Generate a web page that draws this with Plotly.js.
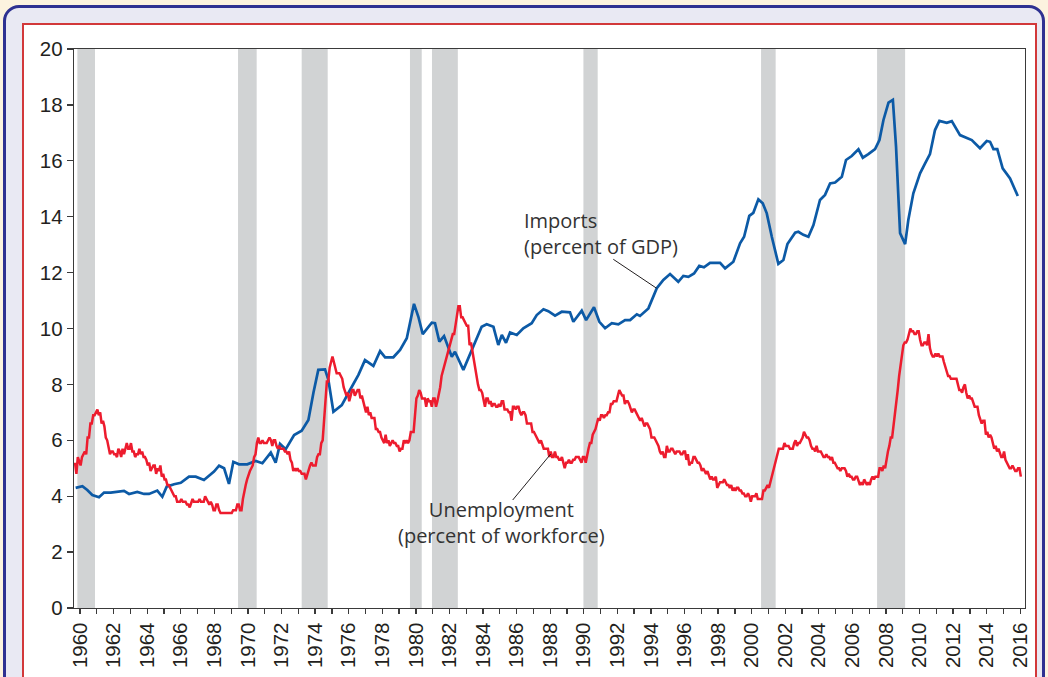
<!DOCTYPE html>
<html>
<head>
<meta charset="utf-8">
<script src="https://cdn.plot.ly/plotly-3.0.1.min.js"></script>
<style>
  html, body { margin:0; padding:0; background:#fcf3df; width:1048px; height:677px; overflow:hidden; }
  #outer { position:absolute; left:3px; top:5px; width:1036px; height:700px; border:3px solid #2e3191; border-radius:16px; background:#e9e9f3; }
  #inner { position:absolute; left:22px; top:23px; width:1011px; height:700px; border:2px solid #d2383a; background:#ffffff; }
  #chart { position:absolute; left:0; top:0; width:1048px; height:677px; }
</style>
</head>
<body>
<div id="outer"></div>
<div id="inner"></div>
<div id="chart"></div>
<script>
// ---------- DATA ----------
// Recession periods (shaded bars), decimal years
const recessionStart = [1960.14, 1969.71, 1973.50, 1979.95, 1981.26, 1990.28, 2000.86, 2007.77];
const recessionEnd   = [1961.19, 1970.82, 1975.05, 1980.65, 1982.80, 1991.13, 2001.73, 2009.44];

// Imports (percent of GDP)
const importsDate = [1960.04,1960.44,1960.73,1961.03,1961.43,1961.73,1962.13,1962.52,1962.92,1963.22,1963.71,1964.11,1964.41,1964.90,1965.20,1965.46,1965.90,1966.30,1966.79,1967.19,1967.68,1968.28,1968.58,1968.88,1969.17,1969.43,1969.77,1970.26,1970.76,1971.16,1971.66,1971.95,1972.21,1972.55,1973.05,1973.50,1973.90,1974.20,1974.49,1974.89,1975.09,1975.39,1975.89,1976.38,1976.88,1977.27,1977.77,1978.17,1978.47,1978.96,1979.36,1979.76,1979.96,1980.19,1980.45,1980.71,1981.25,1981.44,1981.70,1981.98,1982.44,1982.63,1983.13,1983.72,1984.22,1984.52,1984.92,1985.21,1985.42,1985.67,1985.91,1986.31,1986.70,1987.20,1987.50,1987.90,1988.19,1988.59,1988.99,1989.48,1989.68,1990.18,1990.44,1990.91,1991.23,1991.57,1991.97,1992.36,1992.76,1993.06,1993.46,1993.65,1994.15,1994.65,1995.04,1995.44,1995.93,1996.23,1996.53,1996.87,1997.18,1997.46,1997.82,1998.42,1998.72,1999.21,1999.61,1999.85,2000.16,2000.40,2000.70,2000.96,2001.20,2001.50,2001.89,2002.19,2002.43,2002.89,2003.08,2003.38,2003.68,2003.98,2004.37,2004.67,2004.97,2005.27,2005.67,2005.92,2006.26,2006.66,2006.92,2007.25,2007.65,2007.91,2008.15,2008.45,2008.71,2008.90,2009.14,2009.44,2009.63,2009.93,2010.33,2010.63,2010.92,2011.22,2011.48,2011.92,2012.22,2012.71,2013.41,2013.90,2014.30,2014.50,2014.70,2014.93,2015.25,2015.69,2016.15];
const importsPct = [4.30,4.36,4.22,4.04,3.96,4.13,4.13,4.15,4.19,4.08,4.15,4.08,4.08,4.20,3.98,4.34,4.43,4.48,4.70,4.70,4.58,4.88,5.09,5.00,4.44,5.23,5.14,5.14,5.26,5.18,5.56,5.20,5.87,5.68,6.19,6.34,6.73,7.70,8.52,8.54,8.16,7.02,7.26,7.80,8.34,8.87,8.66,9.19,8.97,8.97,9.23,9.65,10.19,10.88,10.42,9.80,10.21,10.19,9.53,9.73,8.99,9.17,8.52,9.35,10.06,10.15,10.06,9.41,9.77,9.49,9.86,9.77,10.01,10.19,10.48,10.69,10.62,10.46,10.60,10.58,10.24,10.64,10.30,10.76,10.24,10.01,10.19,10.15,10.30,10.30,10.51,10.45,10.72,11.44,11.74,11.95,11.67,11.88,11.85,11.97,12.24,12.19,12.35,12.35,12.15,12.39,13.05,13.28,14.03,14.14,14.62,14.48,14.12,13.28,12.31,12.45,13.02,13.43,13.46,13.35,13.28,13.70,14.60,14.78,15.19,15.22,15.43,16.03,16.17,16.41,16.11,16.24,16.42,16.74,17.46,18.08,18.18,16.50,13.41,13.02,13.88,14.84,15.55,15.91,16.24,17.10,17.43,17.36,17.42,16.92,16.74,16.45,16.71,16.68,16.42,16.42,15.73,15.37,14.74];

// Unemployment (percent of workforce), monthly from January 1960
const unempStartYear = 1960;
const unempMonthly = [
5.2,4.8,5.4,5.2,5.1,5.4,5.5,5.6,5.5,6.1,6.1,6.6,
6.6,6.9,6.9,7.0,7.1,6.9,7.0,6.6,6.7,6.5,6.1,6.0,
5.8,5.5,5.6,5.6,5.5,5.5,5.4,5.7,5.6,5.4,5.7,5.5,
5.7,5.9,5.7,5.7,5.9,5.6,5.6,5.4,5.5,5.5,5.7,5.5,
5.6,5.4,5.4,5.3,5.1,5.2,4.9,5.0,5.1,5.1,4.8,5.0,
4.9,5.1,4.7,4.8,4.6,4.6,4.4,4.4,4.3,4.2,4.1,4.0,
4.0,3.8,3.8,3.8,3.9,3.8,3.8,3.8,3.7,3.7,3.6,3.8,
3.9,3.8,3.8,3.8,3.8,3.9,3.8,3.8,3.8,4.0,3.9,3.8,
3.7,3.8,3.7,3.5,3.5,3.7,3.7,3.5,3.4,3.4,3.4,3.4,
3.4,3.4,3.4,3.4,3.4,3.5,3.5,3.5,3.7,3.7,3.5,3.5,
3.9,4.2,4.4,4.6,4.8,4.9,5.0,5.1,5.4,5.5,5.9,6.1,
5.9,5.9,6.0,5.9,5.9,5.9,6.0,6.1,6.0,5.8,6.0,6.0,
5.8,5.7,5.8,5.7,5.7,5.7,5.6,5.6,5.5,5.6,5.3,5.2,
4.9,5.0,4.9,5.0,4.9,4.9,4.8,4.8,4.8,4.6,4.8,4.9,
5.1,5.2,5.1,5.1,5.1,5.4,5.5,5.5,5.9,6.0,6.6,7.2,
8.1,8.1,8.6,8.8,9.0,8.8,8.6,8.4,8.4,8.4,8.3,8.2,
7.9,7.7,7.6,7.7,7.4,7.6,7.8,7.8,7.6,7.7,7.8,7.8,
7.5,7.6,7.4,7.2,7.0,7.2,6.9,7.0,6.8,6.8,6.8,6.4,
6.4,6.3,6.3,6.1,6.0,5.9,6.2,5.9,6.0,5.8,5.9,6.0,
5.9,5.9,5.8,5.8,5.6,5.7,5.7,6.0,5.9,6.0,5.9,6.0,
6.3,6.3,6.3,6.9,7.5,7.6,7.8,7.7,7.5,7.5,7.5,7.2,
7.5,7.4,7.4,7.2,7.5,7.5,7.2,7.4,7.6,7.9,8.3,8.5,
8.6,8.9,9.0,9.3,9.4,9.6,9.8,9.8,10.1,10.4,10.8,10.8,
10.4,10.4,10.3,10.2,10.1,10.1,9.4,9.5,9.2,8.8,8.5,8.3,
8.0,7.8,7.8,7.7,7.4,7.2,7.5,7.5,7.3,7.4,7.2,7.3,
7.3,7.2,7.2,7.3,7.2,7.4,7.4,7.1,7.1,7.1,7.0,7.0,
6.7,7.2,7.2,7.1,7.2,7.2,7.0,6.9,7.0,7.0,6.9,6.6,
6.6,6.6,6.6,6.3,6.3,6.2,6.1,6.0,5.9,6.0,5.8,5.7,
5.7,5.7,5.7,5.4,5.6,5.4,5.4,5.6,5.4,5.4,5.3,5.3,
5.4,5.2,5.0,5.2,5.2,5.3,5.2,5.2,5.3,5.3,5.4,5.4,
5.4,5.3,5.2,5.4,5.4,5.2,5.5,5.7,5.9,5.9,6.2,6.3,
6.4,6.6,6.8,6.7,6.9,6.9,6.8,6.9,6.9,7.0,7.0,7.3,
7.3,7.4,7.4,7.4,7.6,7.8,7.7,7.6,7.6,7.3,7.4,7.4,
7.3,7.1,7.0,7.1,7.1,7.0,6.9,6.8,6.7,6.8,6.6,6.5,
6.6,6.6,6.5,6.4,6.1,6.1,6.1,6.0,5.9,5.8,5.6,5.5,
5.6,5.4,5.4,5.8,5.6,5.6,5.7,5.7,5.6,5.5,5.6,5.6,
5.6,5.5,5.5,5.6,5.6,5.3,5.5,5.1,5.2,5.2,5.4,5.4,
5.3,5.2,5.2,5.1,4.9,5.0,4.9,4.8,4.9,4.7,4.6,4.7,
4.6,4.6,4.7,4.3,4.4,4.5,4.5,4.5,4.6,4.5,4.4,4.4,
4.3,4.4,4.2,4.3,4.2,4.3,4.3,4.2,4.2,4.1,4.1,4.0,
4.0,4.1,4.0,3.8,4.0,4.0,4.0,4.1,3.9,3.9,3.9,3.9,
4.2,4.2,4.3,4.4,4.3,4.5,4.6,4.9,5.0,5.3,5.5,5.7,
5.7,5.7,5.7,5.9,5.8,5.8,5.8,5.7,5.7,5.7,5.9,6.0,
5.8,5.9,5.9,6.0,6.1,6.3,6.2,6.1,6.1,6.0,5.8,5.7,
5.7,5.6,5.8,5.6,5.6,5.6,5.5,5.4,5.4,5.5,5.4,5.4,
5.3,5.4,5.2,5.2,5.1,5.0,5.0,4.9,5.0,5.0,5.0,4.9,
4.7,4.8,4.7,4.7,4.6,4.6,4.7,4.7,4.5,4.4,4.5,4.4,
4.6,4.5,4.4,4.5,4.4,4.6,4.7,4.6,4.7,4.7,4.7,5.0,
5.0,4.9,5.1,5.0,5.4,5.6,5.8,6.1,6.1,6.5,6.8,7.3,
7.8,8.3,8.7,9.0,9.4,9.5,9.5,9.6,9.8,10.0,9.9,9.9,
9.8,9.8,9.9,9.9,9.6,9.4,9.4,9.5,9.5,9.4,9.8,9.3,
9.1,9.0,9.0,9.1,9.0,9.1,9.0,9.0,9.0,8.8,8.6,8.5,
8.3,8.3,8.2,8.2,8.2,8.2,8.2,8.0,7.8,7.8,7.7,7.9,
8.0,7.7,7.5,7.6,7.5,7.5,7.3,7.2,7.2,7.2,6.9,6.7,
6.6,6.7,6.7,6.2,6.3,6.1,6.2,6.1,5.9,5.7,5.8,5.6,
5.7,5.5,5.4,5.4,5.6,5.3,5.2,5.1,5.0,5.0,5.1,5.0,
4.9,4.9,5.0,5.0,4.7
];

// Axis ticks
const tickYears = [];
for (let y = 1960; y <= 2016; y++) tickYears.push(y);
const yTicks = [0,2,4,6,8,10,12,14,16,18,20];

// Labels
const importsLabel = "Imports<br>(percent of GDP)";
const unempLabel = "Unemployment<br>(percent of workforce)";

// ---------- CHART ----------
const unempDate = unempMonthly.map((_, i) => unempStartYear + i / 12);
const tickOffset = 0.3;

const shapes = recessionStart.map((s, i) => ({
  type: 'rect', xref: 'x', yref: 'paper', x0: s, x1: recessionEnd[i], y0: 0, y1: 1,
  fillcolor: '#d1d3d4', line: {width: 0}, layer: 'below'
}));
shapes.push({type:'line', xref:'paper', yref:'paper', x0:0.5671, y0:0.6238, x1:0.6127, y1:0.5719, line:{color:'#231f20', width:1}});
shapes.push({type:'line', xref:'paper', yref:'paper', x0:0.4613, y0:0.1932, x1:0.5013, y1:0.2755, line:{color:'#231f20', width:1}});

const traces = [
  {x: importsDate, y: importsPct, type:'scatter', mode:'lines', line:{color:'#0c5aa6', width:2.7}, hoverinfo:'skip'},
  {x: unempDate, y: unempMonthly, type:'scatter', mode:'lines', line:{color:'#ed1c2e', width:2.5}, hoverinfo:'skip'}
];

const axisFont = {family:'"Liberation Sans", Arial, sans-serif', size:20.5, color:'#231f20'};

const layout = {
  width:1048, height:677,
  margin:{l:74, r:23, t:49, b:69, pad:0},
  paper_bgcolor:'rgba(0,0,0,0)', plot_bgcolor:'#ffffff',
  showlegend:false,
  xaxis:{
    range:[1959.94, 2016.58], showgrid:false, zeroline:false,
    tickmode:'array', tickvals: tickYears.map(y => y + tickOffset),
    ticktext: tickYears.map(y => (y % 2 === 0 ? String(y) : '')),
    tickangle:-90, ticks:'outside', ticklen:5, tickwidth:1.3, tickcolor:'#3a3a3a',
    showline:true, mirror:true, linecolor:'#3a3a3a', linewidth:1.3,
    tickfont: axisFont
  },
  yaxis:{
    range:[0,20], showgrid:false, zeroline:false,
    tickmode:'array', tickvals:yTicks, ticktext:yTicks.map(String),
    ticks:'outside', ticklen:6, tickwidth:1.3, tickcolor:'#3a3a3a',
    showline:true, mirror:true, linecolor:'#3a3a3a', linewidth:1.3,
    tickfont: axisFont
  },
  shapes: shapes,
  annotations:[
    {xref:'paper', yref:'paper', x:0.4711, y:0.6708, text:importsLabel, showarrow:false,
     xanchor:'left', yanchor:'middle', align:'left',
     font:{family:'"Open Sans", sans-serif', size:20, color:'#333333'}},
    {xref:'paper', yref:'paper', x:0.450, y:0.153, text:unempLabel, showarrow:false,
     xanchor:'center', yanchor:'middle', align:'center',
     font:{family:'"Open Sans", sans-serif', size:20, color:'#333333'}}
  ]
};

Plotly.newPlot('chart', traces, layout, {displayModeBar:false, staticPlot:true});
</script>
</body>
</html>
